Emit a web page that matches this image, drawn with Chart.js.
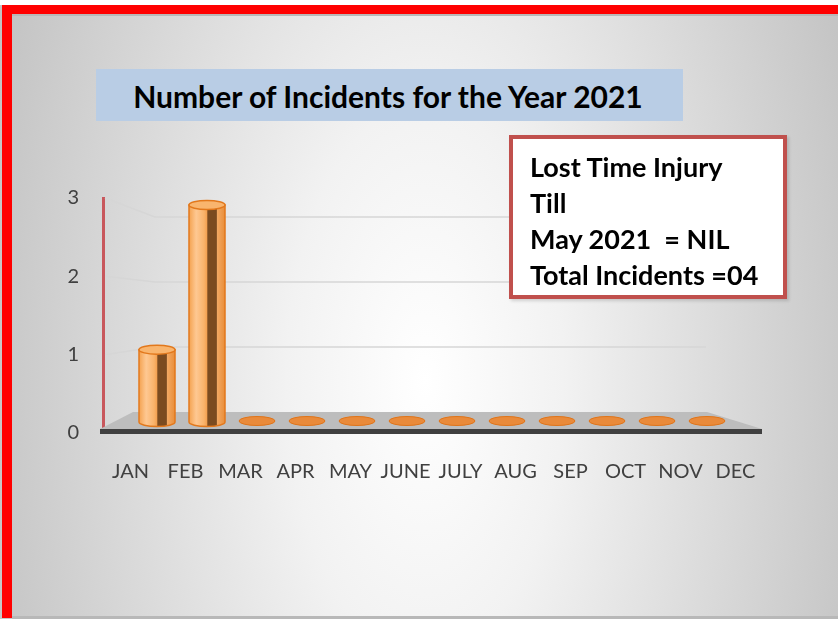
<!DOCTYPE html>
<html>
<head>
<meta charset="utf-8">
<script src="https://cdn.jsdelivr.net/npm/chart.js@4/dist/chart.umd.min.js"></script>
<style>
  html, body { margin: 0; padding: 0; background: #fff; }
  #wrap { position: relative; width: 838px; height: 619px; overflow: hidden; font-family: Lato, "Open Sans", sans-serif; }
  #chart { position: absolute; left: 0; top: 0; }
  #title {
    position: absolute; left: 96px; top: 69px; width: 587px; height: 52px;
    background: #b9cde5; color: #000; font-weight: bold; font-size: 30px;
    line-height: 54px; text-align: center; box-sizing: border-box; padding-right: 3px;
  }
  #note {
    position: absolute; left: 509px; top: 135px; width: 278px; height: 164px;
    box-sizing: border-box; border: 4px solid #c0504d; background: #fff;
    box-shadow: 2px 2px 3px rgba(0,0,0,0.15);
    font-weight: bold; font-size: 27px; color: #000; padding: 10px 0 0 17px; line-height: 36px;
    white-space: nowrap;
  }
</style>
</head>
<body>
<div id="wrap">
  <canvas id="chart" width="838" height="619"></canvas>
  <div id="title">Number of Incidents for the Year 2021</div>
  <div id="note">Lost Time Injury<br>Till<br>May 2021&nbsp; = NIL<br>Total Incidents =04</div>
</div>
<script>
// dados do gráfico
const months = ['JAN', 'FEB', 'MAR', 'APR', 'MAY', 'JUNE', 'JULY', 'AUG', 'SEP', 'OCT', 'NOV', 'DEC'];
const incidents = [1, 3, 0, 0, 0, 0, 0, 0, 0, 0, 0, 0];
const yTicks = [0, 1, 2, 3];

// fundo e moldura vermelha
const backgroundPlugin = {
  id: 'background',
  beforeDraw(chart) {
    const ctx = chart.ctx;
    ctx.save();
    ctx.fillStyle = '#ffffff';
    ctx.fillRect(0, 0, 838, 619);
    ctx.save();
    ctx.translate(425, 380);
    ctx.scale(1, 2);
    const g = ctx.createRadialGradient(0, 0, 0, 0, 0, 460);
    g.addColorStop(0, '#ffffff');
    g.addColorStop(0.3, '#f2f2f2');
    g.addColorStop(1, '#c3c3c3');
    ctx.fillStyle = g;
    ctx.fillRect(-425, -200, 900, 400);
    ctx.restore();
    ctx.fillStyle = '#b8b8b8';
    ctx.fillRect(12, 14, 826, 2);
    ctx.fillRect(12, 616, 826, 3);
    ctx.fillStyle = '#ffffff';
    ctx.fillRect(0, 0, 838, 5);
    ctx.fillStyle = '#ff0000';
    ctx.fillRect(2, 5, 836, 9);
    ctx.fillRect(2, 5, 10, 613);
    ctx.restore();
  }
};

// piso, linhas de grade e cilindros 3D
const cylinderPlugin = {
  id: 'cylinders',
  beforeDatasetsDraw(chart) {
    const ctx = chart.ctx;
    const y = chart.scales.y;
    const yw = chart.scales.yw;
    const area = chart.chartArea;
    ctx.save();
    // grade (parede do fundo em perspectiva)
    ctx.strokeStyle = '#d6d6d6';
    ctx.lineWidth = 1.5;
    yTicks.slice(1).forEach(t => {
      ctx.beginPath();
      ctx.moveTo(area.left + 2, y.getPixelForValue(t));
      ctx.lineTo(155, yw.getPixelForValue(t));
      ctx.lineTo(706, yw.getPixelForValue(t));
      ctx.stroke();
    });
    // piso
    const back = yw.getPixelForValue(0);
    const front = y.getPixelForValue(0);
    ctx.fillStyle = '#bdbdbd';
    ctx.beginPath();
    ctx.moveTo(133, back);
    ctx.lineTo(707, back);
    ctx.lineTo(762, front - 4);
    ctx.lineTo(area.left - 3, front - 4);
    ctx.closePath();
    ctx.fill();
    ctx.fillStyle = '#404040';
    ctx.fillRect(area.left - 3, front - 4, 762 - area.left + 3, 5);
    ctx.restore();
  },
  afterDatasetsDraw(chart) {
    const ctx = chart.ctx;
    const meta = chart.getDatasetMeta(0);
    const rx = 18, ry = 4.5;
    ctx.save();
    meta.data.forEach(el => {
      const cx = el.x, top = el.y, base = el.base;
      if (base - top > 1) {
        const g = ctx.createLinearGradient(cx - rx, 0, cx + rx, 0);
        g.addColorStop(0, '#f4a250');
        g.addColorStop(0.2, '#fec892');
        g.addColorStop(0.42, '#f9b26a');
        g.addColorStop(0.5, '#f3a050');
        g.addColorStop(0.52, '#7b4b20');
        g.addColorStop(0.76, '#7b4b20');
        g.addColorStop(0.79, '#f2a862');
        g.addColorStop(1, '#e98d38');
        ctx.fillStyle = g;
        ctx.beginPath();
        ctx.moveTo(cx - rx, top);
        ctx.lineTo(cx - rx, base);
        ctx.ellipse(cx, base, rx, ry, 0, Math.PI, 0, true);
        ctx.lineTo(cx + rx, top);
        ctx.closePath();
        ctx.fill();
        ctx.strokeStyle = '#e2781c';
        ctx.lineWidth = 1.5;
        ctx.stroke();
        ctx.fillStyle = '#f9b56e';
        ctx.beginPath();
        ctx.ellipse(cx, top, rx, ry, 0, 0, Math.PI * 2);
        ctx.fill();
        ctx.stroke();
      } else {
        ctx.fillStyle = '#e98a3a';
        ctx.beginPath();
        ctx.ellipse(cx, base - 1, rx, ry, 0, 0, Math.PI * 2);
        ctx.fill();
        ctx.strokeStyle = '#e07418';
        ctx.lineWidth = 1;
        ctx.stroke();
      }
    });
    ctx.restore();
  }
};

const ctx = document.getElementById('chart').getContext('2d');
new Chart(ctx, {
  type: 'bar',
  data: {
    labels: months,
    datasets: [{
      label: 'Incidents',
      data: months.map((m, i) => ({ x: i, y: incidents[i] })),
      xAxisID: 'xb',
      yAxisID: 'yb',
      backgroundColor: 'rgba(0,0,0,0)',
      borderWidth: 0,
    }],
  },
  options: {
    responsive: false,
    animation: false,
    events: [],
    layout: { padding: { left: 0, top: 198, right: 75, bottom: 0 } },
    plugins: { legend: { display: false }, tooltip: { enabled: false } },
    scales: {
      x: {
        type: 'category',
        offset: true,
        position: 'bottom',
        grid: { display: false, drawTicks: false },
        border: { display: false },
        ticks: { color: '#404040', font: { family: 'Lato', size: 20 }, padding: 27, maxRotation: 0, autoSkip: false },
        afterFit(scale) { scale.height = 186; },
      },
      xb: {
        type: 'linear', display: false, offset: false, min: -1.08, max: 12.12,
        grid: { offset: false },
      },
      y: {
        type: 'linear', min: 0, max: 3, position: 'left',
        grid: { display: false, drawTicks: false },
        border: { display: true, color: '#c8575c', width: 3 },
        ticks: { stepSize: 1, color: '#404040', font: { family: 'Lato', size: 20 }, padding: 24 },
        afterFit(scale) { scale.width = 103; },
      },
      yb: { type: 'linear', display: false, min: -0.152, max: 3.097 },
      yw: { type: 'linear', display: false, min: -0.323, max: 3.292 },
    },
  },
  plugins: [backgroundPlugin, cylinderPlugin],
});
</script>
</body>
</html>
